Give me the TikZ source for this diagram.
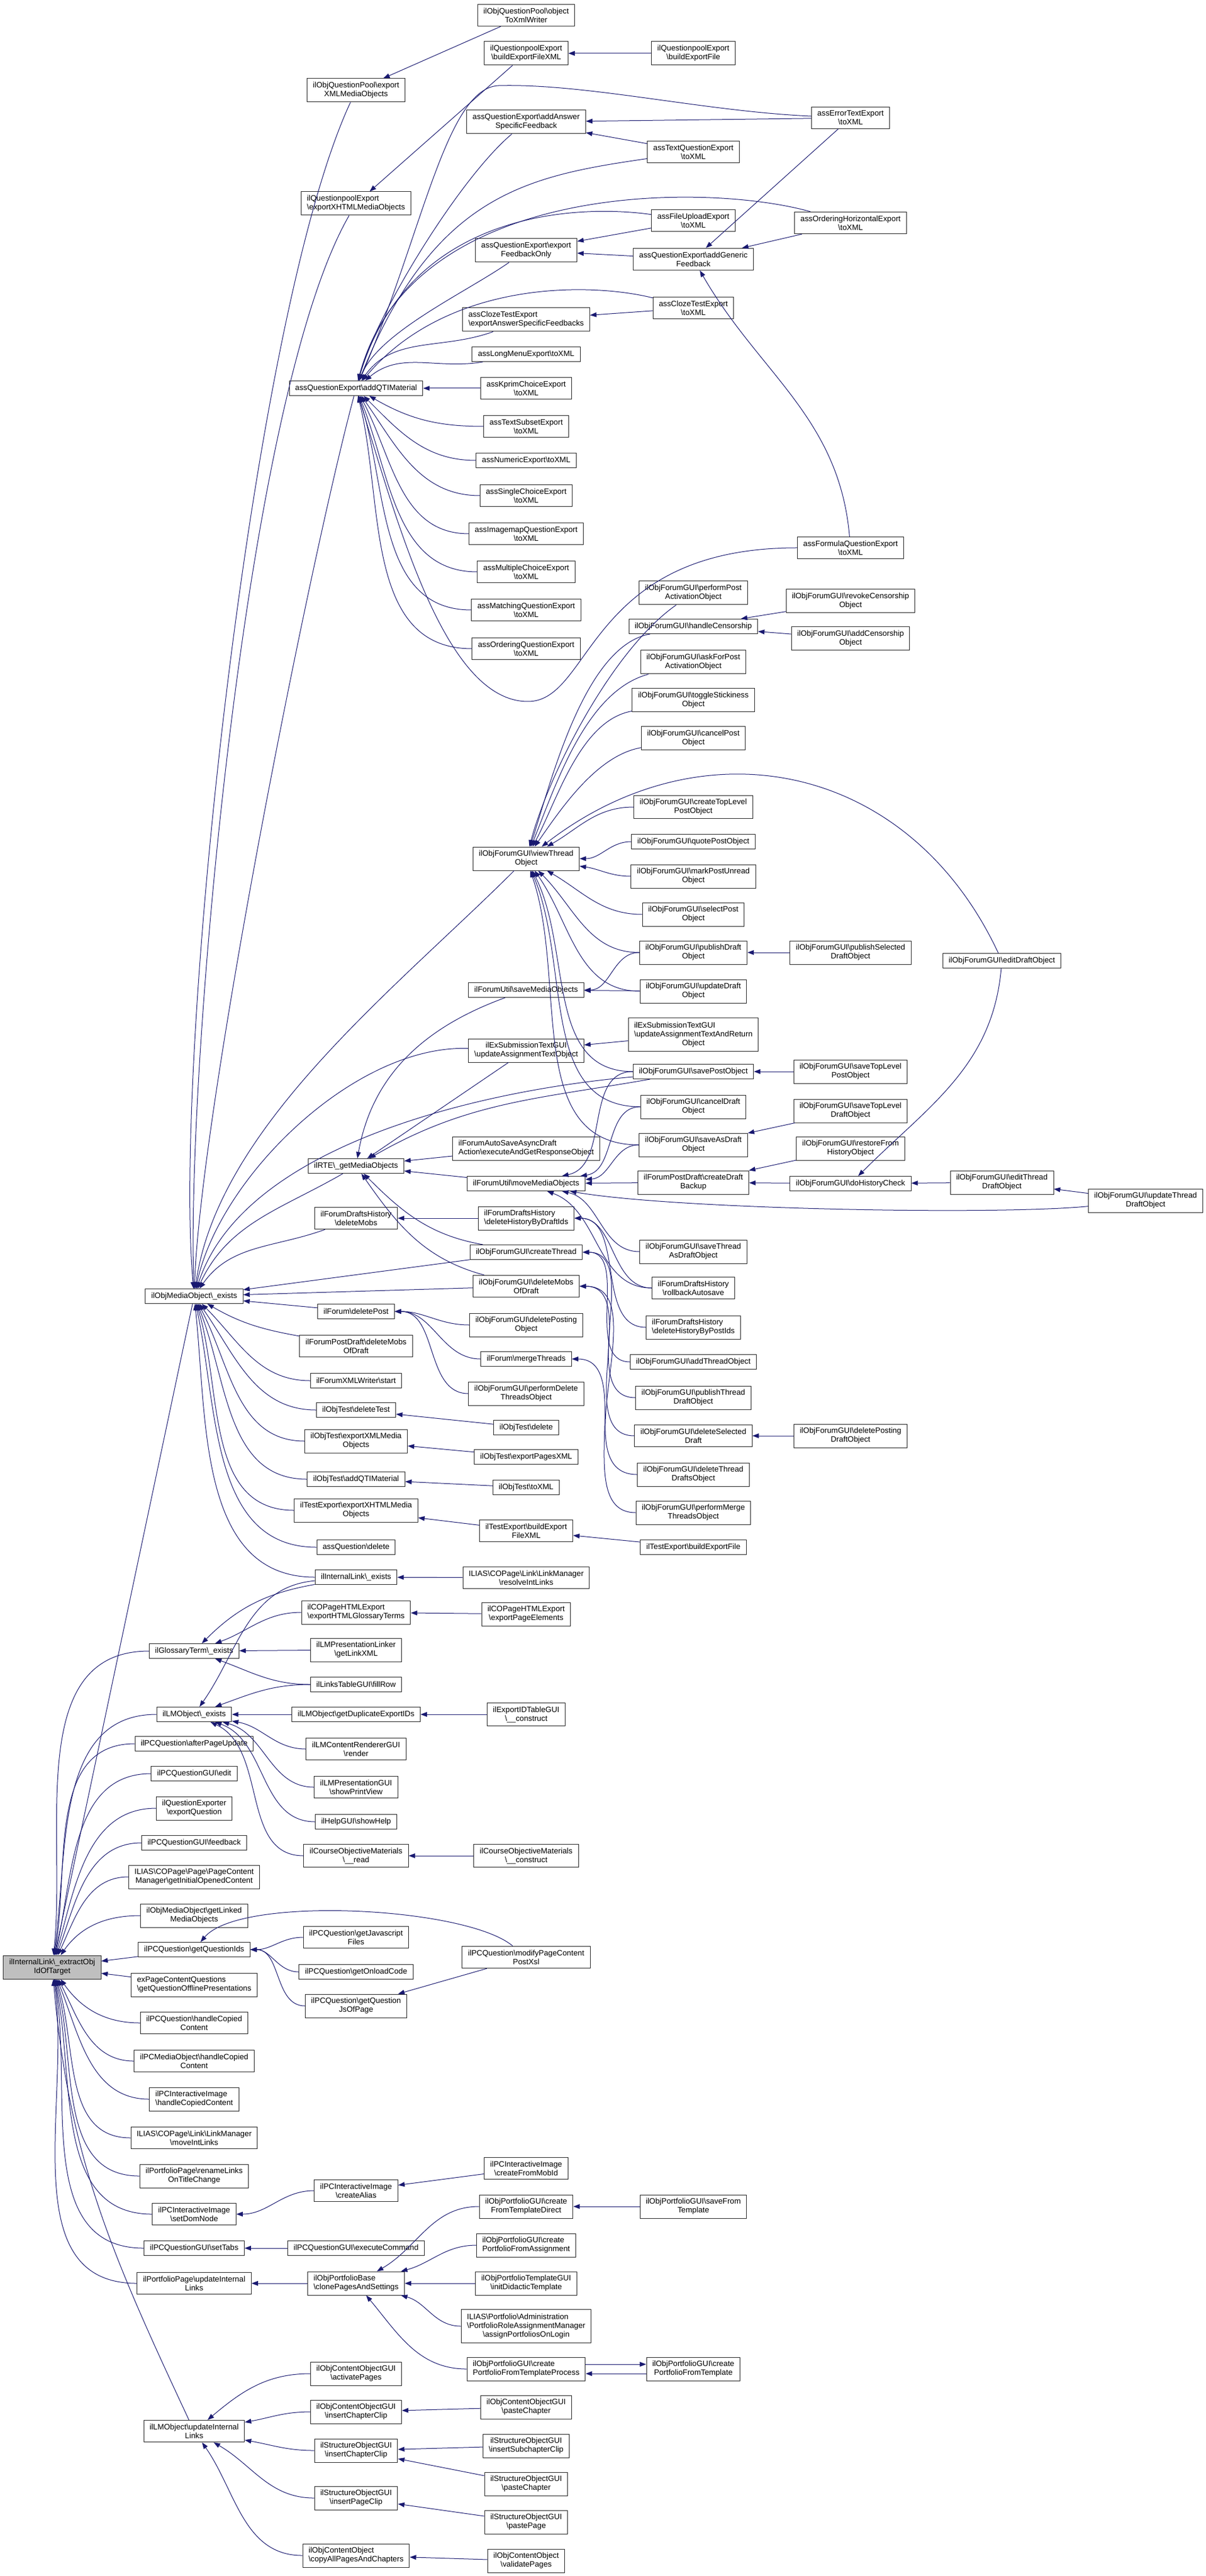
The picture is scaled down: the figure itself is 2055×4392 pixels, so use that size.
\documentclass[tikz,border=0pt]{standalone}
\usepackage{fontspec}
\setmainfont{Liberation Sans}
\usepackage{tikz}
\usetikzlibrary{arrows.meta}
\definecolor{trait}{HTML}{191970}
\colorlet{racine}{gray!50}
\colorlet{bord}{black!85}
\newcommand{\bk}{\textbackslash}
\newcommand{\taille}{\fontsize{2.66}{3}\selectfont}

\begin{document}
\begin{tikzpicture}[x=0.2pt,y=0.2pt,
  fn/.style={draw=bord,fill=white,line width=0.2pt,align=center,font=\taille,inner xsep=2pt,inner ysep=1.26pt,minimum height=5pt},
  fnl/.style={fn,align=left},
  cible/.style={fn,fill=racine},
  call/.style={draw=trait,line width=0.2pt,-{Triangle[length=2.2pt,width=1.6pt]}},
  hv/.style={out=180,in=0}]
\useasboundingbox (0,0) rectangle (2055,-4392);%%
%%RANG 0
\node[cible] (root) at (89,-3354) {ilInternalLink\bk\_extractObj\\IdOfTarget};%%
%%RANG 1
\node[fn] (mo_ex) at (331,-2210) {ilObjMediaObject\bk\_exists};%%
\node[fn] (gt_ex) at (331,-2815) {ilGlossaryTerm\bk\_exists};%%
\node[fn] (lm_ex) at (331,-2923) {ilLMObject\bk\_exists};%%
\node[fn] (pcq_apu) at (331,-2973) {ilPCQuestion\bk afterPageUpdate};%%
\node[fn] (pcqg_edit) at (331,-3024) {ilPCQuestionGUI\bk edit};%%
\node[fn] (qe_eq) at (331,-3083) {ilQuestionExporter\\\bk exportQuestion};%%
\node[fn] (pcqg_fb) at (331,-3142) {ilPCQuestionGUI\bk feedback};%%
\node[fn] (pcm_gioc) at (331,-3200) {ILIAS\bk COPage\bk Page\bk PageContent\\Manager\bk getInitialOpenedContent};%%
\node[fn] (mo_glmo) at (331,-3266) {ilObjMediaObject\bk getLinked\\MediaObjects};%%
\node[fn] (pcq_gqi) at (331,-3324) {ilPCQuestion\bk getQuestionIds};%%
\node[fnl] (epq_gqop) at (331,-3384) {exPageContentQuestions\\\bk getQuestionOfflinePresentations};%%
\node[fn] (pcq_hcc) at (331,-3449) {ilPCQuestion\bk handleCopied\\Content};%%
\node[fn] (pcmo_hcc) at (331,-3514) {ilPCMediaObject\bk handleCopied\\Content};%%
\node[fnl] (pcii_hcc) at (331,-3579) {ilPCInteractiveImage\\\bk handleCopiedContent};%%
\node[fn] (lnk_mil) at (331,-3645) {ILIAS\bk COPage\bk Link\bk LinkManager\\\bk moveIntLinks};%%
\node[fn] (pp_rl) at (331,-3710) {ilPortfolioPage\bk renameLinks\\OnTitleChange};%%
\node[fn] (pcii_sdn) at (331,-3775) {ilPCInteractiveImage\\\bk setDomNode};%%
\node[fn] (pcqg_st) at (331,-3833) {ilPCQuestionGUI\bk setTabs};%%
\node[fn] (pp_uil) at (331,-3893) {ilPortfolioPage\bk updateInternal\\Links};%%
\node[fn] (lm_uil) at (331,-4145) {ilLMObject\bk updateInternal\\Links};%%
%%RANG 2
\node[fn] (qp_exmo) at (607,-154) {ilObjQuestionPool\bk export\\XMLMediaObjects};%%
\node[fnl] (qpe_exhmo) at (607,-347) {ilQuestionpoolExport\\\bk exportXHTMLMediaObjects};%%
\node[fn] (qe_aqm) at (607,-662) {assQuestionExport\bk addQTIMaterial};%%
\node[fn] (rte_gmo) at (607,-1988) {ilRTE\bk\_getMediaObjects};%%
\node[fn] (fdh_dm) at (607,-2077) {ilForumDraftsHistory\\\bk deleteMobs};%%
\node[fn] (f_dp) at (607,-2236) {ilForum\bk deletePost};%%
\node[fn] (fpd_dmod) at (607,-2295) {ilForumPostDraft\bk deleteMobs\\OfDraft};%%
\node[fn] (fxw_start) at (607,-2354) {ilForumXMLWriter\bk start};%%
\node[fn] (t_dt) at (607,-2404) {ilObjTest\bk deleteTest};%%
\node[fn] (t_exmo) at (607,-2457) {ilObjTest\bk exportXMLMedia\\Objects};%%
\node[fn] (t_aqm) at (607,-2522) {ilObjTest\bk addQTIMaterial};%%
\node[fn] (te_exhmo) at (607,-2575) {ilTestExport\bk exportXHTMLMedia\\Objects};%%
\node[fn] (q_del) at (607,-2638) {assQuestion\bk delete};%%
\node[fn] (il_ex) at (607,-2689) {ilInternalLink\bk\_exists};%%
\node[fnl] (cphe_eght) at (607,-2749) {ilCOPageHTMLExport\\\bk exportHTMLGlossaryTerms};%%
\node[fn] (lmpl_glx) at (607,-2813) {ilLMPresentationLinker\\\bk getLinkXML};%%
\node[fn] (ltg_fr) at (607,-2872) {ilLinksTableGUI\bk fillRow};%%
\node[fn] (lm_gdei) at (607,-2923) {ilLMObject\bk getDuplicateExportIDs};%%
\node[fn] (lmcr_r) at (607,-2982) {ilLMContentRendererGUI\\\bk render};%%
\node[fn] (lmp_spv) at (607,-3047) {ilLMPresentationGUI\\\bk showPrintView};%%
\node[fn] (help_sh) at (607,-3106) {ilHelpGUI\bk showHelp};%%
\node[fn] (com_read) at (607,-3164) {ilCourseObjectiveMaterials\\\bk\_\_read};%%
\node[fn] (pcq_gjf) at (607,-3303) {ilPCQuestion\bk getJavascript\\Files};%%
\node[fn] (pcq_goc) at (607,-3362) {ilPCQuestion\bk getOnloadCode};%%
\node[fn] (pcq_gqjp) at (607,-3420) {ilPCQuestion\bk getQuestion\\JsOfPage};%%
\node[fn] (pcii_ca) at (607,-3735) {ilPCInteractiveImage\\\bk createAlias};%%
\node[fn] (pcqg_ec) at (607,-3833) {ilPCQuestionGUI\bk executeCommand};%%
\node[fnl] (pb_cps) at (607,-3893) {ilObjPortfolioBase\\\bk clonePagesAndSettings};%%
\node[fn] (cog_ap) at (607,-4047) {ilObjContentObjectGUI\\\bk activatePages};%%
\node[fn] (cog_icc) at (607,-4112) {ilObjContentObjectGUI\\\bk insertChapterClip};%%
\node[fn] (sog_icc) at (607,-4178) {ilStructureObjectGUI\\\bk insertChapterClip};%%
\node[fn] (sog_ipc) at (607,-4259) {ilStructureObjectGUI\\\bk insertPageClip};%%
\node[fnl] (co_capc) at (607,-4357) {ilObjContentObject\\\bk copyAllPagesAndChapters};%%
%%RANG 3
\node[fn] (qp_otxw) at (897,-26) {ilObjQuestionPool\bk object\\ToXmlWriter};%%
\node[fn] (qpe_befx) at (897,-91) {ilQuestionpoolExport\\\bk buildExportFileXML};%%
\node[fn] (qe_aasf) at (897,-208) {assQuestionExport\bk addAnswer\\SpecificFeedback};%%
\node[fn] (qe_efo) at (897,-427) {assQuestionExport\bk export\\FeedbackOnly};%%
\node[fnl] (cte_easf) at (897,-545) {assClozeTestExport\\\bk exportAnswerSpecificFeedbacks};%%
\node[fn] (lme_x) at (897,-604) {assLongMenuExport\bk toXML};%%
\node[fn] (kce_x) at (897,-662) {assKprimChoiceExport\\\bk toXML};%%
\node[fn] (tse_x) at (897,-727) {assTextSubsetExport\\\bk toXML};%%
\node[fn] (ne_x) at (897,-785) {assNumericExport\bk toXML};%%
\node[fn] (sce_x) at (897,-845) {assSingleChoiceExport\\\bk toXML};%%
\node[fn] (ime_x) at (897,-910) {assImagemapQuestionExport\\\bk toXML};%%
\node[fn] (mce_x) at (897,-975) {assMultipleChoiceExport\\\bk toXML};%%
\node[fn] (mqe_x) at (897,-1040) {assMatchingQuestionExport\\\bk toXML};%%
\node[fn] (oqe_x) at (897,-1106) {assOrderingQuestionExport\\\bk toXML};%%
\node[fn] (fg_vto) at (897,-1464) {ilObjForumGUI\bk viewThread\\Object};%%
\node[fn] (fu_smo) at (897,-1688) {ilForumUtil\bk saveMediaObjects};%%
\node[fn] (exst_uato) at (897,-1791) {ilExSubmissionTextGUI\\\bk updateAssignmentTextObject};%%
\node[fnl] (fasd_egro) at (897,-1958) {ilForumAutoSaveAsyncDraft\\Action\bk executeAndGetResponseObject};%%
\node[fn] (fu_mmo) at (897,-2018) {ilForumUtil\bk moveMediaObjects};%%
\node[fnl] (fdh_dhbd) at (897,-2077) {ilForumDraftsHistory\\\bk deleteHistoryByDraftIds};%%
\node[fn] (fg_ct) at (897,-2135) {ilObjForumGUI\bk createThread};%%
\node[fn] (fg_dmod) at (897,-2193) {ilObjForumGUI\bk deleteMobs\\OfDraft};%%
\node[fn] (fg_dpo) at (897,-2259) {ilObjForumGUI\bk deletePosting\\Object};%%
\node[fn] (f_mt) at (897,-2317) {ilForum\bk mergeThreads};%%
\node[fn] (fg_pdto) at (897,-2376) {ilObjForumGUI\bk performDelete\\ThreadsObject};%%
\node[fn] (t_del) at (897,-2434) {ilObjTest\bk delete};%%
\node[fn] (t_epx) at (897,-2484) {ilObjTest\bk exportPagesXML};%%
\node[fn] (t_x) at (897,-2536) {ilObjTest\bk toXML};%%
\node[fn] (te_befx) at (897,-2610) {ilTestExport\bk buildExport\\FileXML};%%
\node[fn] (lnk_ril) at (897,-2690) {ILIAS\bk COPage\bk Link\bk LinkManager\\\bk resolveIntLinks};%%
\node[fn] (cphe_epe) at (897,-2752) {ilCOPageHTMLExport\\\bk exportPageElements};%%
\node[fn] (eit_c) at (897,-2923) {ilExportIDTableGUI\\\bk\_\_construct};%%
\node[fn] (com_c) at (897,-3164) {ilCourseObjectiveMaterials\\\bk\_\_construct};%%
\node[fn] (pcq_mpcp) at (897,-3337) {ilPCQuestion\bk modifyPageContent\\PostXsl};%%
\node[fn] (pcii_cfm) at (897,-3697) {ilPCInteractiveImage\\\bk createFromMobId};%%
\node[fn] (pg_cftd) at (897,-3762) {ilObjPortfolioGUI\bk create\\FromTemplateDirect};%%
\node[fnl] (pg_cpfa) at (897,-3828) {ilObjPortfolioGUI\bk create\\PortfolioFromAssignment};%%
\node[fn] (ptg_idt) at (897,-3893) {ilObjPortfolioTemplateGUI\\\bk initDidacticTemplate};%%
\node[fn] (pram_apol) at (897,-3966) {\begin{tabular}{@{}l@{}}ILIAS\bk Portfolio\bk Administration\\\bk PortfolioRoleAssignmentManager\\\multicolumn{1}{@{}c@{}}{\bk assignPortfoliosOnLogin}\end{tabular}};%%
\node[fnl] (pg_cpftp) at (897,-4039) {ilObjPortfolioGUI\bk create\\PortfolioFromTemplateProcess};%%
\node[fn] (cog_pc) at (897,-4104) {ilObjContentObjectGUI\\\bk pasteChapter};%%
\node[fn] (sog_isc) at (897,-4170) {ilStructureObjectGUI\\\bk insertSubchapterClip};%%
\node[fn] (sog_pc) at (897,-4235) {ilStructureObjectGUI\\\bk pasteChapter};%%
\node[fn] (sog_pp) at (897,-4300) {ilStructureObjectGUI\\\bk pastePage};%%
\node[fn] (co_vp) at (897,-4366) {ilObjContentObject\\\bk validatePages};%%
%%RANG 4
\node[fn] (qpe_bef) at (1182,-91) {ilQuestionpoolExport\\\bk buildExportFile};%%
\node[fn] (tqe_x) at (1182,-259) {assTextQuestionExport\\\bk toXML};%%
\node[fn] (fue_x) at (1182,-376) {assFileUploadExport\\\bk toXML};%%
\node[fn] (qe_agf) at (1182,-442) {assQuestionExport\bk addGeneric\\Feedback};%%
\node[fn] (cte_x) at (1182,-525) {assClozeTestExport\\\bk toXML};%%
\node[fn] (fg_ppao) at (1182,-1011) {ilObjForumGUI\bk performPost\\ActivationObject};%%
\node[fn] (fg_hc) at (1182,-1068) {ilObjForumGUI\bk handleCensorship};%%
\node[fn] (fg_afpao) at (1182,-1129) {ilObjForumGUI\bk askForPost\\ActivationObject};%%
\node[fn] (fg_tso) at (1182,-1194) {ilObjForumGUI\bk toggleStickiness\\Object};%%
\node[fn] (fg_cpo) at (1182,-1259) {ilObjForumGUI\bk cancelPost\\Object};%%
\node[fn] (fg_ctlpo) at (1182,-1376) {ilObjForumGUI\bk createTopLevel\\PostObject};%%
\node[fn] (fg_qpo) at (1182,-1435) {ilObjForumGUI\bk quotePostObject};%%
\node[fn] (fg_mpuo) at (1182,-1494) {ilObjForumGUI\bk markPostUnread\\Object};%%
\node[fn] (fg_spo) at (1182,-1559) {ilObjForumGUI\bk selectPost\\Object};%%
\node[fn] (fg_pdo) at (1182,-1624) {ilObjForumGUI\bk publishDraft\\Object};%%
\node[fn] (fg_udo) at (1182,-1690) {ilObjForumGUI\bk updateDraft\\Object};%%
\node[fn] (exst_uatro) at (1182,-1764) {\begin{tabular}{@{}l@{}}ilExSubmissionTextGUI\\\bk updateAssignmentTextAndReturn\\\multicolumn{1}{@{}c@{}}{Object}\end{tabular}};%%
\node[fn] (fg_savepo) at (1182,-1827) {ilObjForumGUI\bk savePostObject};%%
\node[fn] (fg_cdo) at (1182,-1887) {ilObjForumGUI\bk cancelDraft\\Object};%%
\node[fn] (fg_sado) at (1182,-1952) {ilObjForumGUI\bk saveAsDraft\\Object};%%
\node[fn] (fpd_cdb) at (1182,-2016) {ilForumPostDraft\bk createDraft\\Backup};%%
\node[fn] (fg_stado) at (1182,-2134) {ilObjForumGUI\bk saveThread\\AsDraftObject};%%
\node[fn] (fdh_ra) at (1182,-2196) {ilForumDraftsHistory\\\bk rollbackAutosave};%%
\node[fnl] (fdh_dhbp) at (1182,-2263) {ilForumDraftsHistory\\\bk deleteHistoryByPostIds};%%
\node[fn] (fg_ato) at (1182,-2322) {ilObjForumGUI\bk addThreadObject};%%
\node[fn] (fg_ptdo) at (1182,-2383) {ilObjForumGUI\bk publishThread\\DraftObject};%%
\node[fn] (fg_dsd) at (1182,-2448) {ilObjForumGUI\bk deleteSelected\\Draft};%%
\node[fn] (fg_dtdo) at (1182,-2514) {ilObjForumGUI\bk deleteThread\\DraftsObject};%%
\node[fn] (fg_pmto) at (1182,-2579) {ilObjForumGUI\bk performMerge\\ThreadsObject};%%
\node[fn] (te_bef) at (1182,-2638) {ilTestExport\bk buildExportFile};%%
\node[fn] (pg_sft) at (1182,-3762) {ilObjPortfolioGUI\bk saveFrom\\Template};%%
\node[fn] (pg_cpft) at (1182,-4039) {ilObjPortfolioGUI\bk create\\PortfolioFromTemplate};%%
%%RANG 5
\node[fn] (ete_x) at (1450,-201) {assErrorTextExport\\\bk toXML};%%
\node[fn] (ohe_x) at (1450,-380) {assOrderingHorizontalExport\\\bk toXML};%%
\node[fn] (fqe_x) at (1450,-934) {assFormulaQuestionExport\\\bk toXML};%%
\node[fn] (fg_rco) at (1450,-1025) {ilObjForumGUI\bk revokeCensorship\\Object};%%
\node[fn] (fg_aco) at (1450,-1089) {ilObjForumGUI\bk addCensorship\\Object};%%
\node[fn] (fg_psdo) at (1450,-1624) {ilObjForumGUI\bk publishSelected\\DraftObject};%%
\node[fn] (fg_stlpo) at (1450,-1827) {ilObjForumGUI\bk saveTopLevel\\PostObject};%%
\node[fn] (fg_stldo) at (1450,-1894) {ilObjForumGUI\bk saveTopLevel\\DraftObject};%%
\node[fn] (fg_rfho) at (1450,-1958) {ilObjForumGUI\bk restoreFrom\\HistoryObject};%%
\node[fn] (fg_dhc) at (1450,-2018) {ilObjForumGUI\bk doHistoryCheck};%%
\node[fn] (fg_dpdo) at (1450,-2448) {ilObjForumGUI\bk deletePosting\\DraftObject};%%
%%RANG 6 ET 7
\node[fn] (fg_edo) at (1708,-1638) {ilObjForumGUI\bk editDraftObject};%%
\node[fn] (fg_etdo) at (1708,-2016) {ilObjForumGUI\bk editThread\\DraftObject};%%
\node[fn] (fg_utdo) at (1953,-2047) {ilObjForumGUI\bk updateThread\\DraftObject};%%
%%APPELS VERS LA RACINE
\draw[call] (mo_ex) -- (root);%%
\draw[call] (gt_ex) to[out=180,in=84] (root);%%
\draw[call] (lm_ex) to[out=180,in=82] (root);%%
\draw[call] (pcq_apu) to[out=180,in=80] (root);%%
\draw[call] (pcqg_edit) to[out=180,in=77] (root);%%
\draw[call] (qe_eq) to[out=180,in=74] (root);%%
\draw[call] (pcqg_fb) to[out=180,in=70] (root);%%
\draw[call] (pcm_gioc) to[out=180,in=65] (root);%%
\draw[call] (mo_glmo) to[out=180,in=55] (root);%%
\draw[call] (pcq_gqi) -- (root);%%
\draw[call] (epq_gqop) -- (root);%%
\draw[call] (pcq_hcc) to[out=180,in=-55] (root);%%
\draw[call] (pcmo_hcc) to[out=180,in=-63] (root);%%
\draw[call] (pcii_hcc) to[out=180,in=-68] (root);%%
\draw[call] (lnk_mil) to[out=180,in=-72] (root);%%
\draw[call] (pp_rl) to[out=180,in=-75] (root);%%
\draw[call] (pcii_sdn) to[out=180,in=-78] (root);%%
\draw[call] (pcqg_st) to[out=180,in=-80] (root);%%
\draw[call] (pp_uil) to[out=180,in=-82] (root);%%
\draw[call] (lm_uil) to[out=115,in=-85] (root);%%
%%VERS ilObjMediaObject _exists
\draw[call] (qp_exmo) to[out=245,in=95,looseness=0.5] (mo_ex);%%
\draw[call] (qpe_exhmo) to[out=240,in=92,looseness=0.5] (mo_ex);%%
\draw[call] (qe_aqm) to[out=255,in=88,looseness=0.5] (mo_ex);%%
\draw[call] (fg_vto) to[out=225,in=82,looseness=0.8] (mo_ex);%%
\draw[call] (exst_uato) to[out=178,in=78,looseness=0.8] (mo_ex);%%
\draw[call] (fg_savepo) to[out=185,in=72,looseness=0.8] (mo_ex);%%
\draw[call] (rte_gmo) to[out=210,in=65] (mo_ex);%%
\draw[call] (fdh_dm) to[out=200,in=55] (mo_ex);%%
\draw[call] (fg_ct) -- (mo_ex);%%
\draw[call] (fg_dmod) -- (mo_ex);%%
\draw[call] (f_dp) -- (mo_ex);%%
\draw[call] (fpd_dmod) to[out=170,in=-30] (mo_ex);%%
\draw[call] (fxw_start) to[out=180,in=-45] (mo_ex);%%
\draw[call] (t_dt) to[out=180,in=-55] (mo_ex);%%
\draw[call] (t_exmo) to[out=180,in=-62] (mo_ex);%%
\draw[call] (t_aqm) to[out=180,in=-68] (mo_ex);%%
\draw[call] (te_exhmo) to[out=180,in=-73] (mo_ex);%%
\draw[call] (q_del) to[out=180,in=-78] (mo_ex);%%
\draw[call] (il_ex) to[out=180,in=-84] (mo_ex);%%
%%GLOSSAIRE ET LM
\draw[call] (il_ex) to[out=190,in=45] (gt_ex);%%
\draw[call] (cphe_eght) to[out=180,in=20] (gt_ex);%%
\draw[call] (lmpl_glx) -- (gt_ex);%%
\draw[call] (ltg_fr) to[out=180,in=-20] (gt_ex);%%
\draw[call] (il_ex) to[out=185,in=55] (lm_ex);%%
\draw[call] (ltg_fr) to[out=180,in=20] (lm_ex);%%
\draw[call] (lm_gdei) -- (lm_ex);%%
\draw[call] (lmcr_r) to[out=180,in=-10] (lm_ex);%%
\draw[call] (lmp_spv) to[out=180,in=-15] (lm_ex);%%
\draw[call] (help_sh) to[out=180,in=-20] (lm_ex);%%
\draw[call] (com_read) to[out=180,in=-25] (lm_ex);%%
\draw[call] (lnk_ril) -- (il_ex);%%
\draw[call] (cphe_epe) -- (cphe_eght);%%
\draw[call] (eit_c) -- (lm_gdei);%%
\draw[call] (com_c) -- (com_read);%%
%%TESTS
\draw[call] (t_del) -- (t_dt);%%
\draw[call] (t_epx) -- (t_exmo);%%
\draw[call] (t_x) -- (t_aqm);%%
\draw[call] (te_befx) -- (te_exhmo);%%
\draw[call] (te_bef) -- (te_befx);%%
%%QUESTIONS PC
\draw[call] (pcq_gjf) to[hv] (pcq_gqi);%%
\draw[call] (pcq_goc) to[hv] (pcq_gqi);%%
\draw[call] (pcq_gqjp) to[hv] (pcq_gqi);%%
\draw[call] (pcq_mpcp) -- (pcq_gqjp);%%
\draw[call] (pcq_mpcp) to[out=140,in=50,looseness=0.5] (pcq_gqi);%%
\draw[call] (pcii_ca) to[hv] (pcii_sdn);%%
\draw[call] (pcii_cfm) -- (pcii_ca);%%
\draw[call] (pcqg_ec) -- (pcqg_st);%%
%%PORTFOLIO
\draw[call] (pb_cps) -- (pp_uil);%%
\draw[call] (pg_cftd) to[out=180,in=30] (pb_cps);%%
\draw[call] (pg_cpfa) to[out=180,in=15] (pb_cps);%%
\draw[call] (ptg_idt) -- (pb_cps);%%
\draw[call] (pram_apol) to[out=180,in=-15] (pb_cps);%%
\draw[call] (pg_cpftp) to[out=180,in=-50] (pb_cps);%%
\draw[call] (pg_sft) -- (pg_cftd);%%
\draw[call] ([yshift=1.6pt]pg_cpftp.east) -- ([yshift=1.6pt]pg_cpft.west);%%
\draw[call] ([yshift=-1.6pt]pg_cpft.west) -- ([yshift=-1.6pt]pg_cpftp.east);%%
%%CONTENU LM
\draw[call] (cog_ap) to[out=180,in=40] (lm_uil);%%
\draw[call] (cog_icc) to[out=180,in=10] (lm_uil);%%
\draw[call] (sog_icc) to[out=180,in=-10] (lm_uil);%%
\draw[call] (sog_ipc) to[out=180,in=-30] (lm_uil);%%
\draw[call] (co_capc) to[out=180,in=-55] (lm_uil);%%
\draw[call] (cog_pc) -- (cog_icc);%%
\draw[call] (sog_isc) -- (sog_icc);%%
\draw[call] (sog_pc) -- (sog_icc);%%
\draw[call] (sog_pp) -- (sog_ipc);%%
\draw[call] (co_vp) -- (co_capc);%%
%%EXPORT QUESTIONS
\draw[call] (qp_otxw) -- (qp_exmo);%%
\draw[call] (qpe_befx) -- (qpe_exhmo);%%
\draw[call] (qpe_bef) -- (qpe_befx);%%
\draw[call] (qe_aasf) to[out=220,in=75,looseness=0.6] (qe_aqm);%%
\draw[call] (qe_efo) to[out=215,in=68,looseness=0.7] (qe_aqm);%%
\draw[call] (cte_easf) to[out=200,in=55] (qe_aqm);%%
\draw[call] (lme_x) to[out=190,in=40] (qe_aqm);%%
\draw[call] (kce_x) -- (qe_aqm);%%
\draw[call] (tse_x) to[out=180,in=-30] (qe_aqm);%%
\draw[call] (ne_x) to[out=180,in=-45] (qe_aqm);%%
\draw[call] (sce_x) to[out=180,in=-55] (qe_aqm);%%
\draw[call] (ime_x) to[out=180,in=-62] (qe_aqm);%%
\draw[call] (mce_x) to[out=180,in=-68] (qe_aqm);%%
\draw[call] (mqe_x) to[out=180,in=-72] (qe_aqm);%%
\draw[call] (oqe_x) to[out=180,in=-76] (qe_aqm);%%
\draw[call] (ete_x) .. controls (1200,-190) and (1000,-142) .. (850,-146) .. controls (760,-150) and (720,-400) .. (qe_aqm);%%
\draw[call] (tqe_x) .. controls (900,-300) and (740,-330) .. (qe_aqm);%%
\draw[call] (ohe_x) .. controls (1200,-310) and (700,-310) .. (qe_aqm);%%
\draw[call] (fue_x) .. controls (1000,-350) and (700,-350) .. (qe_aqm);%%
\draw[call] (cte_x) .. controls (1000,-480) and (760,-480) .. (qe_aqm);%%
\draw[call] (fqe_x) .. controls (1000,-934) and (1010,-1196) .. (900,-1196) .. controls (760,-1196) and (680,-900) .. (qe_aqm);%%
\draw[call] (ete_x) -- (qe_aasf);%%
\draw[call] (tqe_x) -- (qe_aasf);%%
\draw[call] (fue_x) -- (qe_efo);%%
\draw[call] (qe_agf) -- (qe_efo);%%
\draw[call] (ete_x) -- (qe_agf);%%
\draw[call] (ohe_x) -- (qe_agf);%%
\draw[call] (fqe_x) to[out=95,in=-60] (qe_agf);%%
\draw[call] (cte_x) -- (cte_easf);%%
%%FORUM VUE
\draw[call] (fg_ppao) to[out=215,in=75,looseness=0.7] (fg_vto);%%
\draw[call] (fg_hc) to[out=190,in=72,looseness=0.7] (fg_vto);%%
\draw[call] (fg_afpao) to[out=195,in=68,looseness=0.8] (fg_vto);%%
\draw[call] (fg_tso) to[out=190,in=62,looseness=0.8] (fg_vto);%%
\draw[call] (fg_cpo) to[out=190,in=55,looseness=0.8] (fg_vto);%%
\draw[call] (fg_ctlpo) to[out=180,in=30] (fg_vto);%%
\draw[call] (fg_qpo) to[hv] (fg_vto);%%
\draw[call] (fg_mpuo) to[out=180,in=-8] (fg_vto);%%
\draw[call] (fg_spo) to[out=180,in=-30] (fg_vto);%%
\draw[call] (fg_pdo) to[out=180,in=-45] (fg_vto);%%
\draw[call] (fg_udo) to[out=180,in=-55] (fg_vto);%%
\draw[call] (fg_savepo) to[out=180,in=-63] (fg_vto);%%
\draw[call] (fg_cdo) to[out=180,in=-67] (fg_vto);%%
\draw[call] (fg_sado) to[out=180,in=-71] (fg_vto);%%
\draw[call] (fg_edo) .. controls (1550,-1300) and (1200,-1230) .. (fg_vto);%%
\draw[call] (fg_rco) -- (fg_hc);%%
\draw[call] (fg_aco) -- (fg_hc);%%
%%FORUM MEDIAS
\draw[call] (fg_pdo) to[hv] (fu_smo);%%
\draw[call] (fg_udo) -- (fu_smo);%%
\draw[call] (fg_psdo) -- (fg_pdo);%%
\draw[call] (exst_uatro) -- (exst_uato);%%
\draw[call] (fu_smo) to[out=200,in=80] (rte_gmo);%%
\draw[call] (exst_uato) -- (rte_gmo);%%
\draw[call] (fg_savepo) to[out=190,in=30] (rte_gmo);%%
\draw[call] (fasd_egro) -- (rte_gmo);%%
\draw[call] (fu_mmo) -- (rte_gmo);%%
\draw[call] (fg_ct) to[out=170,in=-45] (rte_gmo);%%
\draw[call] (fg_dmod) to[out=165,in=-55] (rte_gmo);%%
\draw[call] (fdh_dhbd) -- (fdh_dm);%%
\draw[call] (fg_savepo) to[out=180,in=12] (fu_mmo);%%
\draw[call] (fg_cdo) to[out=180,in=8] (fu_mmo);%%
\draw[call] (fg_sado) to[out=180,in=4] (fu_mmo);%%
\draw[call] (fpd_cdb) -- (fu_mmo);%%
\draw[call] (fg_stado) to[out=180,in=-12] (fu_mmo);%%
\draw[call] (fdh_ra) to[out=180,in=-20] (fu_mmo);%%
\draw[call] (fg_utdo) .. controls (1700,-2072) and (1150,-2062) .. (fu_mmo);%%
\draw[call] (fg_stlpo) -- (fg_savepo);%%
\draw[call] (fg_stldo) -- (fg_sado);%%
\draw[call] (fg_rfho) -- (fpd_cdb);%%
\draw[call] (fg_dhc) -- (fpd_cdb);%%
\draw[call] (fg_edo) to[out=-95,in=45] (fg_dhc);%%
\draw[call] (fg_etdo) -- (fg_dhc);%%
\draw[call] (fg_utdo) -- (fg_etdo);%%
%%FORUM BROUILLONS ET FILS
\draw[call] (fdh_ra) to[hv] (fdh_dhbd);%%
\draw[call] (fdh_dhbp) to[hv] (fdh_dhbd);%%
\draw[call] (fg_ato) to[hv] (fg_ct);%%
\draw[call] (fg_ptdo) to[hv] (fg_ct);%%
\draw[call] (fg_dsd) to[hv] (fg_dmod);%%
\draw[call] (fg_dtdo) to[hv] (fg_dmod);%%
\draw[call] (fg_dpdo) -- (fg_dsd);%%
\draw[call] (fg_dpo) to[hv] (f_dp);%%
\draw[call] (f_mt) to[hv] (f_dp);%%
\draw[call] (fg_pdto) to[hv] (f_dp);%%
\draw[call] (fg_pmto) to[hv] (f_mt);%%
\end{tikzpicture}
\end{document}
